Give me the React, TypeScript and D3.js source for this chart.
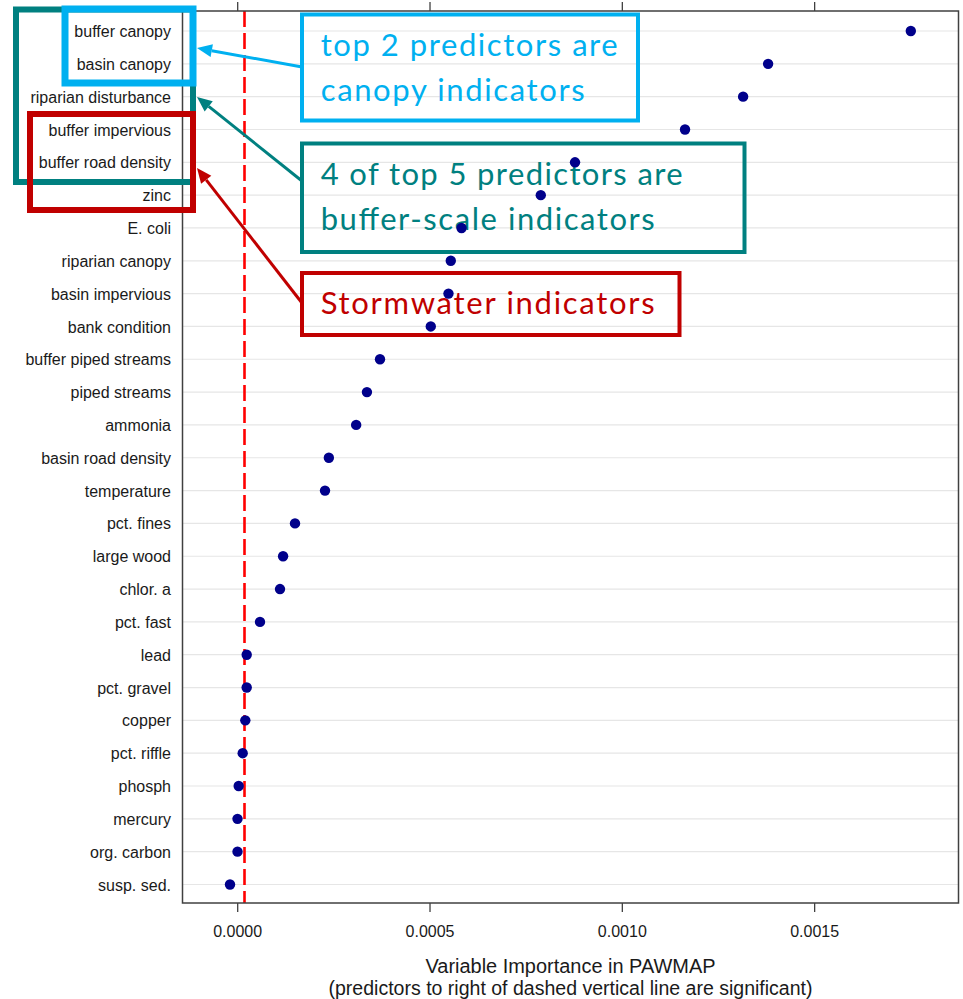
import React from "react";
import * as d3 from "d3";

// Predictors, ordered from most to least important
const predictors = [
  "buffer canopy",
  "basin canopy",
  "riparian disturbance",
  "buffer impervious",
  "buffer road density",
  "zinc",
  "E. coli",
  "riparian canopy",
  "basin impervious",
  "bank condition",
  "buffer piped streams",
  "piped streams",
  "ammonia",
  "basin road density",
  "temperature",
  "pct. fines",
  "large wood",
  "chlor. a",
  "pct. fast",
  "lead",
  "pct. gravel",
  "copper",
  "pct. riffle",
  "phosph",
  "mercury",
  "org. carbon",
  "susp. sed.",
];

// Variable importance for each predictor
const importance = [
  0.00175, 0.001379, 0.001314, 0.001163, 0.000877, 0.000788, 0.000582,
  0.000554, 0.000548, 0.000502, 0.00037, 0.000336, 0.000308, 0.000237,
  0.000227, 0.000149, 0.000118, 0.00011, 0.000058, 0.0000234, 0.0000234,
  0.0000198, 0.000013, 0.0000026, -0.0000005, -0.0000005, -0.00002,
];

// Significance threshold (dashed vertical line)
const threshold = 0.0000177;

const xTicks = [0, 0.0005, 0.001, 0.0015];
const xTickLabels = ["0.0000", "0.0005", "0.0010", "0.0015"];
const xDomain = [-0.0001435, 0.001874];

const titleLines = [
  "Variable Importance in PAWMAP",
  "(predictors to right of dashed vertical line are significant)",
];
const titleWidths = [290, 484];

const W = 963;
const H = 999;
const panel = { left: 182.5, right: 958.5, top: 11, bottom: 903 };
const rows = { first: 31, last: 884.5 };

const axisFont = "'Liberation Sans Narrow', 'Arial Narrow', 'Liberation Sans', Arial, sans-serif";
const labelFont = "'Liberation Sans', Arial, sans-serif";
const noteFont = "Lato, 'Open Sans', 'Noto Sans', sans-serif";

const CYAN = "#00B0F0";
const TEAL = "#008080";
const RED = "#C00000";

type Note = { lines: string[]; color: string; box: [number, number, number, number]; widths: number[] };

const notes: Note[] = [
  {
    lines: ["top 2 predictors are", "canopy indicators"],
    color: CYAN,
    box: [302, 14.5, 638, 120.5],
    widths: [297, 264],
  },
  {
    lines: ["4 of top 5 predictors are", "buffer-scale indicators"],
    color: TEAL,
    box: [302, 143.5, 744.5, 252],
    widths: [362, 334],
  },
  {
    lines: ["Stormwater indicators"],
    color: RED,
    box: [302, 273, 679.5, 335],
    widths: [334],
  },
];

function Arrow({ x1, y1, x2, y2, color }: { x1: number; y1: number; x2: number; y2: number; color: string }) {
  const ang = Math.atan2(y2 - y1, x2 - x1);
  const len = 15;
  const half = 6.5;
  const bx = x2 - len * Math.cos(ang);
  const by = y2 - len * Math.sin(ang);
  const px = -Math.sin(ang) * half;
  const py = Math.cos(ang) * half;
  return (
    <g>
      <line x1={x1} y1={y1} x2={bx} y2={by} stroke={color} strokeWidth={3} />
      <path d={`M${x2},${y2}L${bx + px},${by + py}L${bx - px},${by - py}Z`} fill={color} />
    </g>
  );
}

export default function App() {
  const x = d3.scaleLinear().domain(xDomain).range([panel.left, panel.right]);
  const y = d3.scalePoint<string>().domain(predictors).range([rows.first, rows.last]).padding(0);

  const tx = x(threshold);

  return (
    <svg
      width={W}
      height={H}
      style={{ position: "absolute", left: 0, top: 0, display: "block", background: "#fff" }}
    >
      {/* row guide lines */}
      {predictors.map((p) => (
        <line
          key={"g" + p}
          x1={panel.left}
          x2={panel.right}
          y1={y(p)}
          y2={y(p)}
          stroke="#e6e6e6"
          strokeWidth={1.2}
        />
      ))}

      {/* predictor labels */}
      {predictors.map((p) => (
        <text
          key={"l" + p}
          x={171}
          y={y(p)}
          dy="0.38em"
          textAnchor="end"
          fontFamily={labelFont}
          fontSize={16}
          fill="#1a1a1a"
        >
          {p}
        </text>
      ))}

      {/* significance threshold */}
      <line
        x1={tx}
        x2={tx}
        y1={panel.top}
        y2={panel.bottom}
        stroke="#FF0000"
        strokeWidth={2.6}
        strokeDasharray="16 6"
      />

      {/* panel frame */}
      <rect
        x={panel.left}
        y={panel.top}
        width={panel.right - panel.left}
        height={panel.bottom - panel.top}
        fill="none"
        stroke="#404040"
        strokeWidth={1.5}
      />

      {/* ticks top and bottom */}
      {xTicks.map((t, i) => (
        <g key={"t" + t}>
          <line x1={x(t)} x2={x(t)} y1={panel.top} y2={panel.top - 9} stroke="#404040" strokeWidth={1.3} />
          <line x1={x(t)} x2={x(t)} y1={panel.bottom} y2={panel.bottom + 9} stroke="#404040" strokeWidth={1.3} />
          <text
            x={x(t)}
            y={937}
            textAnchor="middle"
            fontFamily={axisFont}
            fontSize={16}
            fill="#1a1a1a"
          >
            {xTickLabels[i]}
          </text>
        </g>
      ))}

      {/* axis title */}
      {titleLines.map((s, i) => (
        <text
          key={s}
          x={(panel.left + panel.right) / 2}
          y={973 + i * 22}
          textAnchor="middle"
          fontFamily={axisFont}
          fontSize={20}
          fill="#1a1a1a"
          textLength={titleWidths[i]}
          lengthAdjust="spacingAndGlyphs"
        >
          {s}
        </text>
      ))}

      {/* callout boxes and text */}
      {notes.map((n) => (
        <g key={n.lines[0]}>
          <rect
            x={n.box[0]}
            y={n.box[1]}
            width={n.box[2] - n.box[0]}
            height={n.box[3] - n.box[1]}
            fill="none"
            stroke={n.color}
            strokeWidth={4}
          />
          {n.lines.map((s, i) => (
            <text
              key={s}
              x={320.7}
              y={n.box[1] + 41 + i * 45}
              fontFamily={noteFont}
              fontSize={31}
              fill={n.color}
              textLength={n.widths[i]}
              lengthAdjust="spacing"
            >
              {s}
            </text>
          ))}
        </g>
      ))}

      {/* points */}
      {predictors.map((p, i) => (
        <circle key={"c" + p} cx={x(importance[i])} cy={y(p)} r={5.2} fill="#00008B" />
      ))}

      {/* label group outlines */}
      <rect x={16} y={9.5} width={177} height={172.5} fill="none" stroke={TEAL} strokeWidth={6} />
      <rect x={65} y={9} width={128} height={74} fill="none" stroke={CYAN} strokeWidth={7} />
      <rect x={30} y={114} width={163} height={96} fill="none" stroke={RED} strokeWidth={6} />

      {/* arrows from callouts to labels */}
      <Arrow x1={302} y1={67} x2={197} y2={48} color={CYAN} />
      <Arrow x1={302} y1={181} x2={197} y2={97} color={TEAL} />
      <Arrow x1={302} y1={303} x2={197} y2={168} color={RED} />
    </svg>
  );
}
